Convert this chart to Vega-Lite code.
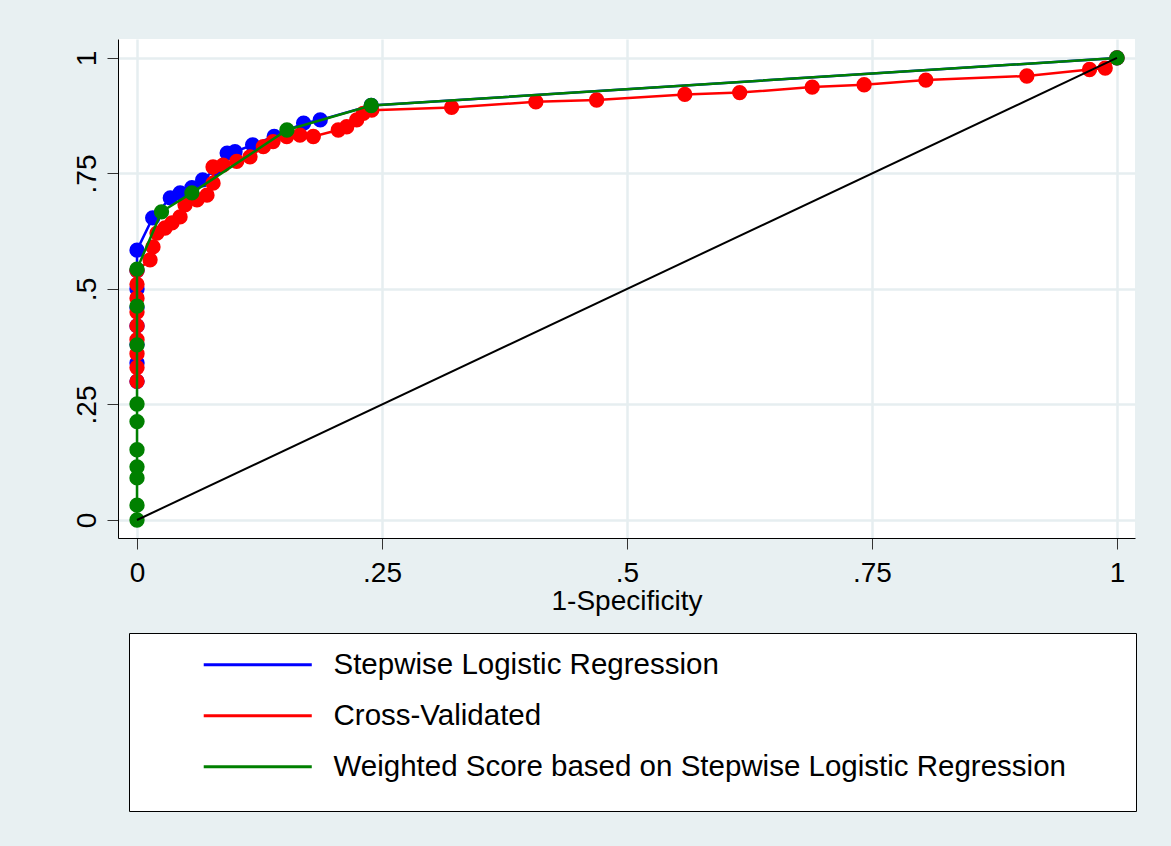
{
  "$schema": "https://vega.github.io/schema/vega-lite/v6.json",
  "autosize": {"type": "none"},
  "width": 1017,
  "height": 499,
  "padding": {"left": 118, "top": 39, "right": 36, "bottom": 308},
  "background": "#E8F0F2",
  "config": {
    "view": {"fill": "white", "stroke": null},
    "font": "Liberation Sans",
    "axis": {
      "domainColor": "black",
      "domainWidth": 1,
      "tickColor": "#333333",
      "tickWidth": 1,
      "tickSize": 11,
      "grid": true,
      "gridColor": "#E6EEF0",
      "gridWidth": 2.5,
      "labelFont": "Liberation Sans",
      "labelFontSize": 28,
      "labelColor": "black",
      "titleFont": "Liberation Sans",
      "titleFontSize": 28,
      "titleFontWeight": "normal",
      "titleColor": "black"
    }
  },
  "datasets": {
    "roc": [
      {"model": "Stepwise Logistic Regression", "step": 1, "fpr": 0, "tpr": 0.30},
      {"model": "Stepwise Logistic Regression", "step": 2, "fpr": 0, "tpr": 0.34},
      {"model": "Stepwise Logistic Regression", "step": 3, "fpr": 0, "tpr": 0.38},
      {"model": "Stepwise Logistic Regression", "step": 4, "fpr": 0, "tpr": 0.42},
      {"model": "Stepwise Logistic Regression", "step": 5, "fpr": 0, "tpr": 0.46},
      {"model": "Stepwise Logistic Regression", "step": 6, "fpr": 0, "tpr": 0.50},
      {"model": "Stepwise Logistic Regression", "step": 7, "fpr": 0, "tpr": 0.54},
      {"model": "Stepwise Logistic Regression", "step": 8, "fpr": 0, "tpr": 0.584},
      {"model": "Stepwise Logistic Regression", "step": 9, "fpr": 0.016, "tpr": 0.654},
      {"model": "Stepwise Logistic Regression", "step": 10, "fpr": 0.034, "tpr": 0.697},
      {"model": "Stepwise Logistic Regression", "step": 11, "fpr": 0.044, "tpr": 0.708},
      {"model": "Stepwise Logistic Regression", "step": 12, "fpr": 0.056, "tpr": 0.719},
      {"model": "Stepwise Logistic Regression", "step": 13, "fpr": 0.067, "tpr": 0.736},
      {"model": "Stepwise Logistic Regression", "step": 14, "fpr": 0.08, "tpr": 0.76},
      {"model": "Stepwise Logistic Regression", "step": 15, "fpr": 0.092, "tpr": 0.794},
      {"model": "Stepwise Logistic Regression", "step": 16, "fpr": 0.1, "tpr": 0.797},
      {"model": "Stepwise Logistic Regression", "step": 17, "fpr": 0.118, "tpr": 0.812},
      {"model": "Stepwise Logistic Regression", "step": 18, "fpr": 0.14, "tpr": 0.83},
      {"model": "Stepwise Logistic Regression", "step": 19, "fpr": 0.17, "tpr": 0.859},
      {"model": "Stepwise Logistic Regression", "step": 20, "fpr": 0.187, "tpr": 0.866},
      {"model": "Stepwise Logistic Regression", "step": 21, "fpr": 0.239, "tpr": 0.897},
      {"model": "Stepwise Logistic Regression", "step": 22, "fpr": 1, "tpr": 1},

      {"model": "Cross-Validated", "step": 1, "fpr": 0, "tpr": 0.30},
      {"model": "Cross-Validated", "step": 2, "fpr": 0, "tpr": 0.33},
      {"model": "Cross-Validated", "step": 3, "fpr": 0, "tpr": 0.36},
      {"model": "Cross-Validated", "step": 4, "fpr": 0, "tpr": 0.39},
      {"model": "Cross-Validated", "step": 5, "fpr": 0, "tpr": 0.42},
      {"model": "Cross-Validated", "step": 6, "fpr": 0, "tpr": 0.45},
      {"model": "Cross-Validated", "step": 7, "fpr": 0, "tpr": 0.48},
      {"model": "Cross-Validated", "step": 8, "fpr": 0, "tpr": 0.51},
      {"model": "Cross-Validated", "step": 9, "fpr": 0, "tpr": 0.54},
      {"model": "Cross-Validated", "step": 10, "fpr": 0.0133, "tpr": 0.563},
      {"model": "Cross-Validated", "step": 11, "fpr": 0.0163, "tpr": 0.591},
      {"model": "Cross-Validated", "step": 12, "fpr": 0.0204, "tpr": 0.621},
      {"model": "Cross-Validated", "step": 13, "fpr": 0.0286, "tpr": 0.632},
      {"model": "Cross-Validated", "step": 14, "fpr": 0.0357, "tpr": 0.643},
      {"model": "Cross-Validated", "step": 15, "fpr": 0.0439, "tpr": 0.656},
      {"model": "Cross-Validated", "step": 16, "fpr": 0.049, "tpr": 0.682},
      {"model": "Cross-Validated", "step": 17, "fpr": 0.0612, "tpr": 0.693},
      {"model": "Cross-Validated", "step": 18, "fpr": 0.0714, "tpr": 0.703},
      {"model": "Cross-Validated", "step": 19, "fpr": 0.0776, "tpr": 0.729},
      {"model": "Cross-Validated", "step": 20, "fpr": 0.0776, "tpr": 0.764},
      {"model": "Cross-Validated", "step": 21, "fpr": 0.0878, "tpr": 0.768},
      {"model": "Cross-Validated", "step": 22, "fpr": 0.1017, "tpr": 0.776},
      {"model": "Cross-Validated", "step": 23, "fpr": 0.1153, "tpr": 0.786},
      {"model": "Cross-Validated", "step": 24, "fpr": 0.1289, "tpr": 0.808},
      {"model": "Cross-Validated", "step": 25, "fpr": 0.1388, "tpr": 0.819},
      {"model": "Cross-Validated", "step": 26, "fpr": 0.1528, "tpr": 0.83},
      {"model": "Cross-Validated", "step": 27, "fpr": 0.1663, "tpr": 0.833},
      {"model": "Cross-Validated", "step": 28, "fpr": 0.1799, "tpr": 0.83},
      {"model": "Cross-Validated", "step": 29, "fpr": 0.2054, "tpr": 0.844},
      {"model": "Cross-Validated", "step": 30, "fpr": 0.214, "tpr": 0.851},
      {"model": "Cross-Validated", "step": 31, "fpr": 0.2242, "tpr": 0.866},
      {"model": "Cross-Validated", "step": 32, "fpr": 0.2309, "tpr": 0.88},
      {"model": "Cross-Validated", "step": 33, "fpr": 0.2395, "tpr": 0.887},
      {"model": "Cross-Validated", "step": 34, "fpr": 0.321, "tpr": 0.893},
      {"model": "Cross-Validated", "step": 35, "fpr": 0.407, "tpr": 0.905},
      {"model": "Cross-Validated", "step": 36, "fpr": 0.469, "tpr": 0.909},
      {"model": "Cross-Validated", "step": 37, "fpr": 0.559, "tpr": 0.921},
      {"model": "Cross-Validated", "step": 38, "fpr": 0.615, "tpr": 0.925},
      {"model": "Cross-Validated", "step": 39, "fpr": 0.689, "tpr": 0.937},
      {"model": "Cross-Validated", "step": 40, "fpr": 0.742, "tpr": 0.942},
      {"model": "Cross-Validated", "step": 41, "fpr": 0.805, "tpr": 0.952},
      {"model": "Cross-Validated", "step": 42, "fpr": 0.908, "tpr": 0.961},
      {"model": "Cross-Validated", "step": 43, "fpr": 0.972, "tpr": 0.975},
      {"model": "Cross-Validated", "step": 44, "fpr": 0.988, "tpr": 0.978},
      {"model": "Cross-Validated", "step": 45, "fpr": 1, "tpr": 1},

      {"model": "Weighted Score based on Stepwise Logistic Regression", "step": 1, "fpr": 0, "tpr": 0},
      {"model": "Weighted Score based on Stepwise Logistic Regression", "step": 2, "fpr": 0, "tpr": 0.032},
      {"model": "Weighted Score based on Stepwise Logistic Regression", "step": 3, "fpr": 0, "tpr": 0.091},
      {"model": "Weighted Score based on Stepwise Logistic Regression", "step": 4, "fpr": 0, "tpr": 0.115},
      {"model": "Weighted Score based on Stepwise Logistic Regression", "step": 5, "fpr": 0, "tpr": 0.152},
      {"model": "Weighted Score based on Stepwise Logistic Regression", "step": 6, "fpr": 0, "tpr": 0.213},
      {"model": "Weighted Score based on Stepwise Logistic Regression", "step": 7, "fpr": 0, "tpr": 0.251},
      {"model": "Weighted Score based on Stepwise Logistic Regression", "step": 8, "fpr": 0, "tpr": 0.379},
      {"model": "Weighted Score based on Stepwise Logistic Regression", "step": 9, "fpr": 0, "tpr": 0.463},
      {"model": "Weighted Score based on Stepwise Logistic Regression", "step": 10, "fpr": 0, "tpr": 0.543},
      {"model": "Weighted Score based on Stepwise Logistic Regression", "step": 11, "fpr": 0.025, "tpr": 0.667},
      {"model": "Weighted Score based on Stepwise Logistic Regression", "step": 12, "fpr": 0.056, "tpr": 0.708},
      {"model": "Weighted Score based on Stepwise Logistic Regression", "step": 13, "fpr": 0.153, "tpr": 0.844},
      {"model": "Weighted Score based on Stepwise Logistic Regression", "step": 14, "fpr": 0.239, "tpr": 0.897},
      {"model": "Weighted Score based on Stepwise Logistic Regression", "step": 15, "fpr": 1, "tpr": 1}
    ],
    "reference": [
      {"fpr": 0, "tpr": 0},
      {"fpr": 1, "tpr": 1}
    ]
  },
  "encoding": {
    "x": {
      "field": "fpr",
      "type": "quantitative",
      "title": "1-Specificity",
      "scale": {"domain": [-0.0194, 1.0184], "nice": false, "zero": false},
      "axis": {
        "values": [0, 0.25, 0.5, 0.75, 1],
        "labelExpr": "datum.value == 0 || datum.value == 1 ? format(datum.value, 'd') : replace(format(datum.value, '.2~f'), '0.', '.')",
        "labelPadding": 10,
        "titlePadding": 0,
        "labelFlush": false
      }
    },
    "y": {
      "field": "tpr",
      "type": "quantitative",
      "title": null,
      "scale": {"domain": [-0.039, 1.041], "nice": false, "zero": false},
      "axis": {
        "values": [0, 0.25, 0.5, 0.75, 1],
        "labelExpr": "datum.value == 0 || datum.value == 1 ? format(datum.value, 'd') : replace(format(datum.value, '.2~f'), '0.', '.')",
        "labelAngle": -90,
        "labelAlign": "center",
        "labelBaseline": "alphabetic",
        "labelPadding": 12,
        "labelFlush": false
      }
    }
  },
  "layer": [
    {
      "data": {"name": "roc"},
      "transform": [{"filter": "datum.model === 'Stepwise Logistic Regression'"}],
      "mark": {"type": "line", "strokeWidth": 2.5, "point": {"filled": true, "size": 235, "opacity": 1}},
      "encoding": {
        "order": {"field": "step", "type": "quantitative"},
        "color": {"field": "model", "type": "nominal", "title": "\u00a0",
          "scale": {
            "domain": ["Stepwise Logistic Regression", "Cross-Validated", "Weighted Score based on Stepwise Logistic Regression"],
            "range": ["#0000FF", "#FF0000", "#008000"]
          },
          "legend": {
            "orient": "none",
            "legendX": 11,
            "legendY": 594,
            "direction": "vertical",
            "padding": 17,
            "strokeColor": "black",
            "fillColor": "white",
            "symbolType": "M-5,0H5",
            "symbolSize": 467,
            "symbolStrokeWidth": 3,
            "symbolOffset": 97,
            "labelOffset": 61,
            "labelFont": "Liberation Sans",
            "labelFontSize": 29.5,
            "labelColor": "black",
            "labelLimit": 0,
            "rowPadding": 20,
            "titleOrient": "right",
            "titleFontSize": 155,
            "titlePadding": 53
          }
        }
      }
    },
    {
      "data": {"name": "roc"},
      "transform": [{"filter": "datum.model === 'Cross-Validated'"}],
      "mark": {"type": "line", "strokeWidth": 2.5, "point": {"filled": true, "size": 235, "opacity": 1}},
      "encoding": {
        "order": {"field": "step", "type": "quantitative"},
        "color": {"field": "model", "type": "nominal"}
      }
    },
    {
      "data": {"name": "roc"},
      "transform": [{"filter": "datum.model === 'Weighted Score based on Stepwise Logistic Regression'"}],
      "mark": {"type": "line", "strokeWidth": 2.5, "point": {"filled": true, "size": 235, "opacity": 1}},
      "encoding": {
        "order": {"field": "step", "type": "quantitative"},
        "color": {"field": "model", "type": "nominal"}
      }
    },
    {
      "data": {"name": "reference"},
      "mark": {"type": "line", "color": "black", "strokeWidth": 2},
      "encoding": {}
    }
  ]
}
